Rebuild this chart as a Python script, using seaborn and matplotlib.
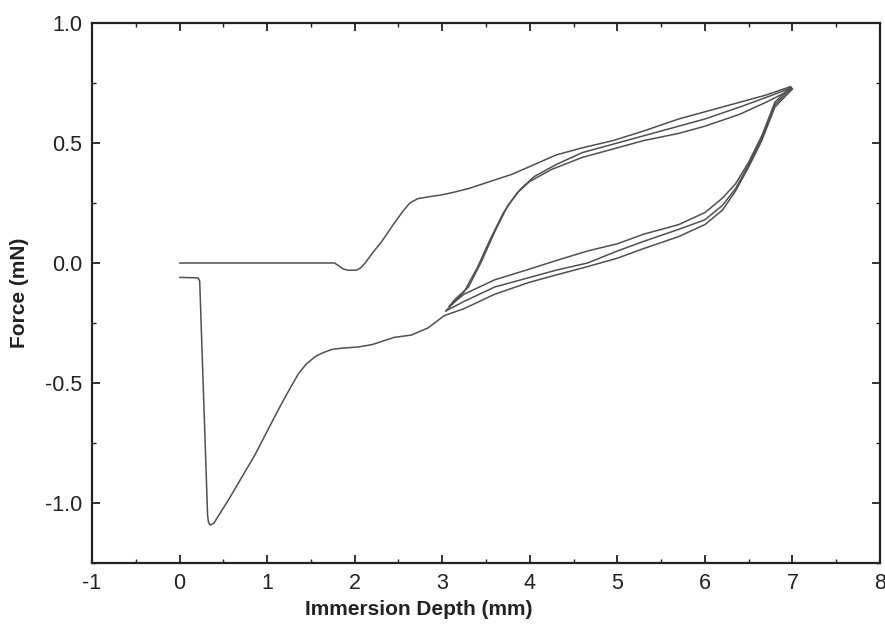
import matplotlib
matplotlib.use("Agg")
import matplotlib.pyplot as plt
import seaborn as sns
import pandas as pd
from matplotlib.ticker import MultipleLocator

# Immersion depth (mm) and force (mN) for each leg of the dipping cycles
adv1_depth = [0.00, 1.77, 1.82, 1.87, 1.92, 2.02, 2.07, 2.12, 2.20, 2.31, 2.45, 2.55, 2.63,
              2.72, 2.85, 2.98, 3.10, 3.30, 3.55, 3.80, 4.05, 4.30, 4.60, 4.95, 5.30, 5.70,
              6.00, 6.40, 6.70, 6.98]
adv1_force = [0.00, 0.00, -0.012, -0.025, -0.03, -0.03, -0.02, 0.00, 0.04, 0.09, 0.165, 0.215,
              0.25, 0.268, 0.276, 0.283, 0.292, 0.31, 0.34, 0.37, 0.41, 0.45, 0.48, 0.51, 0.55,
              0.60, 0.63, 0.67, 0.70, 0.735]

rec1_depth = [6.98, 6.80, 6.65, 6.50, 6.35, 6.20, 6.00, 5.70, 5.30, 5.00, 4.66, 4.30, 4.00,
              3.60, 3.25, 3.08]
rec1_force = [0.735, 0.67, 0.53, 0.42, 0.33, 0.27, 0.21, 0.16, 0.12, 0.08, 0.05, 0.01, -0.025,
              -0.07, -0.13, -0.18]

adv2_depth = [3.08, 3.15, 3.30, 3.44, 3.60, 3.75, 3.90, 4.05, 4.30, 4.60, 5.00, 5.30, 5.70,
              6.00, 6.40, 6.70, 6.99]
adv2_force = [-0.18, -0.15, -0.10, 0.00, 0.13, 0.24, 0.31, 0.36, 0.41, 0.46, 0.50, 0.53, 0.57,
              0.60, 0.65, 0.69, 0.73]

rec2_depth = [6.99, 6.80, 6.65, 6.50, 6.35, 6.20, 6.00, 5.70, 5.30, 5.00, 4.66, 4.30, 4.00,
              3.60, 3.25, 3.04]
rec2_force = [0.73, 0.66, 0.52, 0.41, 0.31, 0.24, 0.18, 0.14, 0.09, 0.05, 0.00, -0.03, -0.06,
              -0.10, -0.16, -0.20]

adv3_depth = [3.04, 3.12, 3.25, 3.40, 3.55, 3.70, 3.85, 4.00, 4.25, 4.60, 5.00, 5.30, 5.70,
              6.00, 6.40, 6.70, 7.00]
adv3_force = [-0.20, -0.17, -0.12, -0.02, 0.10, 0.21, 0.29, 0.34, 0.39, 0.44, 0.48, 0.51, 0.54,
              0.57, 0.62, 0.67, 0.725]

rec3_depth = [7.00, 6.80, 6.65, 6.50, 6.35, 6.20, 6.00, 5.70, 5.30, 5.00, 4.66, 4.30, 4.00,
              3.60, 3.25, 3.02, 2.84, 2.65, 2.45, 2.20, 2.04, 1.85, 1.74, 1.63, 1.55, 1.45,
              1.36, 1.25, 1.13, 0.86, 0.57, 0.45, 0.39, 0.35, 0.33, 0.32, 0.23, 0.21, 0.00]
rec3_force = [0.725, 0.65, 0.51, 0.40, 0.30, 0.22, 0.16, 0.11, 0.06, 0.02, -0.015, -0.05, -0.08,
              -0.13, -0.19, -0.22, -0.27, -0.30, -0.31, -0.34, -0.35, -0.355, -0.36, -0.375,
              -0.39, -0.42, -0.46, -0.53, -0.61, -0.80, -0.98, -1.05, -1.085, -1.092, -1.08,
              -1.05, -0.075, -0.062, -0.06]

x_ticks = [-1, 0, 1, 2, 3, 4, 5, 6, 7, 8]
y_ticks = [-1.0, -0.5, 0.0, 0.5, 1.0]
y_tick_labels = ["-1.0", "-0.5", "0.0", "0.5", "1.0"]

legs = [
    ("advance 1", adv1_depth, adv1_force),
    ("recede 1", rec1_depth, rec1_force),
    ("advance 2", adv2_depth, adv2_force),
    ("recede 2", rec2_depth, rec2_force),
    ("advance 3", adv3_depth, adv3_force),
    ("recede 3", rec3_depth, rec3_force),
]
frames = []
for name, d, f in legs:
    frames.append(pd.DataFrame({"depth": d, "force": f, "leg": name}))
df = pd.concat(frames, ignore_index=True)

sns.set_theme(style="ticks")
plt.rcParams["font.family"] = ["Liberation Sans", "DejaVu Sans"]

fig = plt.figure(figsize=(8.85, 6.33), dpi=100)
ax = fig.add_axes([92 / 885, 1 - 563 / 633, 788 / 885, 540 / 633])

sns.lineplot(data=df, x="depth", y="force", units="leg", estimator=None, sort=False,
             color="#505050", linewidth=1.1, ax=ax)

ax.set_xlim(-1, 8)
ax.set_ylim(-1.25, 1.0)
ax.set_xticks(x_ticks)
ax.set_xticklabels([str(t) for t in x_ticks])
ax.set_yticks(y_ticks)
ax.set_yticklabels(y_tick_labels)
ax.xaxis.set_minor_locator(MultipleLocator(0.5))
ax.yaxis.set_minor_locator(MultipleLocator(0.25))

ax.tick_params(which="both", direction="in", top=True, right=True, colors="#222222",
               labelsize=15.5, pad=7)
ax.tick_params(which="major", length=6, width=1.3)
ax.tick_params(which="minor", length=3, width=1.0)
for s in ax.spines.values():
    s.set_linewidth(1.6)
    s.set_color("#222222")

ax.set_xlabel("Immersion Depth (mm)", fontsize=15, fontweight="bold", color="#222222")
ax.set_ylabel("Force (mN)", fontsize=15, fontweight="bold", color="#222222")
ax.xaxis.set_label_coords(0.415, -0.068)
ax.yaxis.set_label_coords(-0.08, 0.5)

fig.savefig("out.png", dpi=100, facecolor="white")
